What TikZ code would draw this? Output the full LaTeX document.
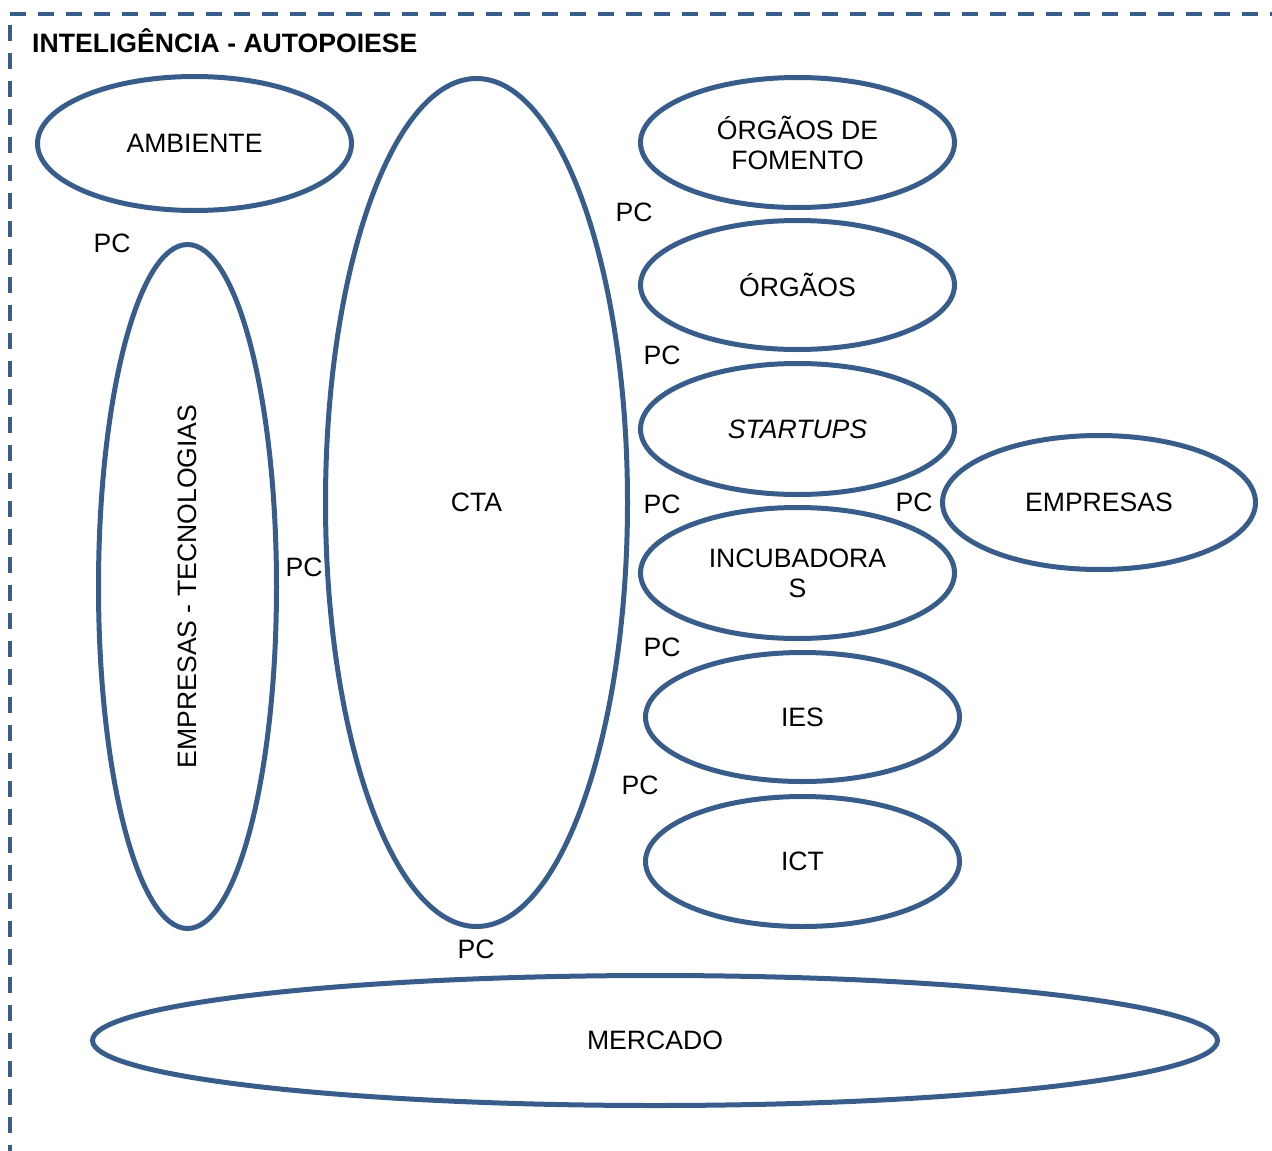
\documentclass[tikz,border=0pt]{standalone}
\usepackage{fontspec}
\setmainfont{Liberation Sans}
\usetikzlibrary{shapes.geometric}
\definecolor{rimblue}{HTML}{385D8A}

\begin{document}
\begin{tikzpicture}[x=1pt, y=-1pt,
    every node/.style={font=\fontsize{26.6}{30}\selectfont, align=center, inner sep=0pt},
    blob/.style={ellipse, draw=rimblue, line width=5pt},
    dims/.style 2 args={minimum width=#1, minimum height=#2}]
    \useasboundingbox (0,0) rectangle (1272,1151);
    % moldura tracejada
    \draw[rimblue, line width=3.5pt, dash pattern=on 16pt off 12pt] (10,14) -- (1272,14);
    \draw[rimblue, line width=3.5pt, dash pattern=on 16pt off 12pt] (10,25) -- (10,1151);
    \node[anchor=base west, font=\bfseries\fontsize{26.6}{30}\selectfont] (titulo) at (32,52) {INTELIGÊNCIA - AUTOPOIESE};

    \node[blob, dims={314pt}{134pt}] (ambiente) at (194.5,143.5) {AMBIENTE};
    \node[blob, dims={178pt}{684pt}] (emptec) at (187.5,586.5) {};
    \node[rotate=90] (emptectxt) at (emptec.center) {EMPRESAS - TECNOLOGIAS};
    \node[blob, dims={302pt}{848pt}] (cta) at (476.5,502.5) {CTA};
    \node[blob, dims={314pt}{130pt}] (fomento) at (797.5,142.5) {ÓRGÃOS DE\\FOMENTO};
    \node[blob, dims={314pt}{129pt}] (orgaos) at (797.5,285) {ÓRGÃOS};
    \node[blob, dims={314pt}{131pt}] (startups) at (797.5,429) {\itshape STARTUPS};
    \node[blob, dims={314pt}{131pt}] (incub) at (797.5,573) {INCUBADORA\\S};
    \node[blob, dims={314pt}{129pt}] (ies) at (802.5,717) {IES};
    \node[blob, dims={314pt}{130pt}] (ict) at (802.5,861.5) {ICT};
    \node[blob, dims={313pt}{134pt}] (empresas) at (1099,502.5) {EMPRESAS};
    \node[blob, dims={1125pt}{130pt}] (mercado) at (655,1040.5) {MERCADO};

    % rotulos PC
    \foreach \x/\y [count=\i] in {112/243, 634/212, 662/355, 662/504, 914/502,
                                  304/567, 662/647, 640/785, 476/949} {
        \node (pc\i) at (\x,\y) {PC};
    }
\end{tikzpicture}
\end{document}
